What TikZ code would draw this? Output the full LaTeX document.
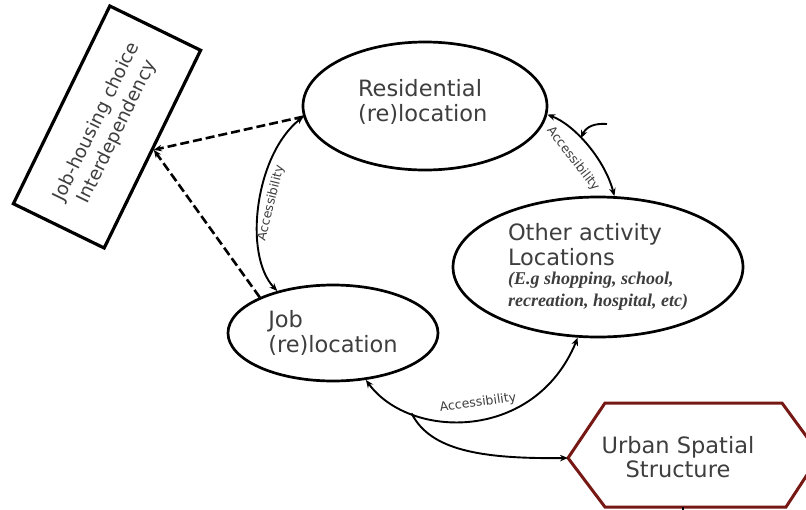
\documentclass[tikz,border=0pt]{standalone}
\usepackage{fontspec}
\setmainfont{DejaVu Sans}
\newfontfamily\noteserif{Liberation Serif}
\usetikzlibrary{shapes.geometric,arrows.meta,calc}
\definecolor{inkgray}{RGB}{62,62,62}
\definecolor{urbanred}{RGB}{118,24,20}

\begin{document}
\begin{tikzpicture}[x=1pt,y=-1pt,
  place/.style={ellipse,draw=black,line width=2.7pt,inner sep=0pt,align=left,
    text=inkgray,font=\fontsize{22.5}{25}\selectfont},
  choicebox/.style={draw=black,line width=3.2pt,minimum width=220pt,minimum height=101pt,
    align=center,text=inkgray,font=\fontsize{18.5}{23}\selectfont},
  tipmark/.style={-{Stealth[length=8pt,width=6.5pt]}},
  bothmark/.style={{Stealth[length=8pt,width=6.5pt]}-{Stealth[length=8pt,width=6.5pt]}},
  link/.style={line width=1.9pt,draw=black},
  dashlink/.style={line width=2.6pt,draw=black,dash pattern=on 9pt off 4pt},
  acclabel/.style={text=inkgray,font=\fontsize{12.5}{14}\selectfont,inner sep=0pt},
  hexline/.style={draw=urbanred,line width=3pt,line join=miter}
]
\useasboundingbox (0,0) rectangle (806,509);
\clip (0,0) rectangle (806,509);
\fill[white] (0,0) rectangle (806,509);

% main locations
\node[place,minimum width=244pt,minimum height=128pt] (res) at (425,106)
  {Residential\hspace*{10pt}\\(re)location\hspace*{10pt}\\[-14pt]};
\node[place,minimum width=210pt,minimum height=96pt] (job) at (333,333)
  {Job\\(re)location};
\node[place,minimum width=290pt,minimum height=140pt] (oth) at (598,267)
  {Other activity\\Locations\\[-6pt]
   {\noteserif\bfseries\itshape\fontsize{18}{20}\selectfont (E.g shopping, school,}\\[-3pt]
   {\noteserif\bfseries\itshape\fontsize{18}{20}\selectfont recreation, hospital, etc)}};

% tilted interdependency box
\node[choicebox,rotate=64] (jh) at (107,127) {Job-housing choice\\Interdependency};

% urban spatial structure hexagon
\coordinate (hexL) at (568,458);
\coordinate (hexTL) at (605,403);
\coordinate (hexTR) at (782,403);
\coordinate (hexR) at (820,455);
\coordinate (hexBR) at (786,507);
\coordinate (hexBL) at (605,507);
\coordinate (hexB) at (683,507);
\coordinate (hexStub) at (683,515);
\draw[hexline] (hexL) -- (hexTL) -- (hexTR) -- (hexR) -- (hexBR) -- (hexBL) -- cycle;
\node[align=center,text=inkgray,font=\fontsize{22.5}{24}\selectfont] (urban) at (678,457)
  {Urban Spatial\\Structure};
\draw[link] (hexB) -- (hexStub);

% dashed links to the interdependency box
\draw[dashlink,tipmark] (res.185) -- (jh.south);
\draw[dashlink,tipmark] (job.154) -- (jh.south);

% accessibility: residential <-> job
\draw[link,bothmark] (res.185) .. controls (255,155) and (243,255) .. (job.143);
\node[acclabel,rotate=76] (acc1) at (271,203) {Accessibility};

% accessibility: residential <-> other activities
\draw[link,bothmark] (res.356) .. controls (575,125) and (605,160) .. (oth.77)
  coordinate[pos=0.41] (cuetip);
\node[acclabel,rotate=-52] (acc2) at (573,159) {Accessibility};
\coordinate (cue) at (607,124);
\draw[link,tipmark] (cue) .. controls (594,123) and (586,127) .. (cuetip);

% accessibility: job <-> other activities, branching to urban structure
\draw[link,bothmark] (job.305) .. controls (410,440) and (535,442) .. (oth.254)
  coordinate[pos=0.25] (fork);
\node[acclabel,rotate=8] (acc3) at (478,403) {Accessibility};
\draw[link,tipmark] (fork) .. controls (430,450) and (480,459) .. (hexL);
\end{tikzpicture}
\end{document}
